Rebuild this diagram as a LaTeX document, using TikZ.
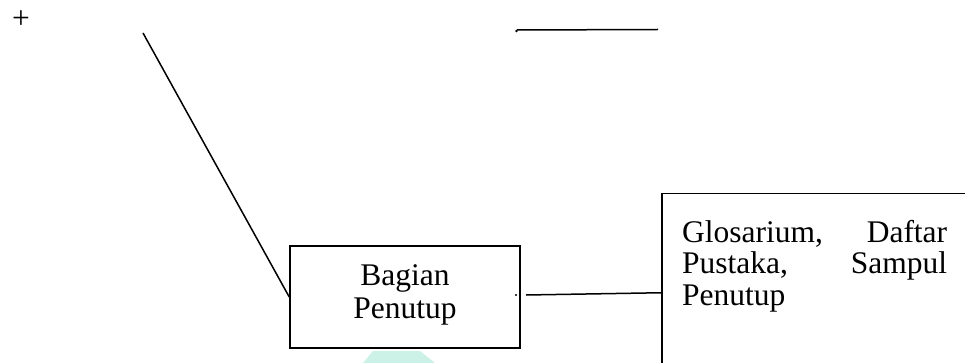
\documentclass[tikz,border=0pt]{standalone}
\usepackage{fontspec}
\setmainfont{Liberation Serif}
\definecolor{wm}{RGB}{204,242,232}
\begin{document}
\begin{tikzpicture}[x=1pt,y=-1pt,
  ln/.style={line width=1.5pt,black},
  boxst/.style={draw,line width=1.5pt,inner sep=0pt},
  txt/.style={font=\fontsize{31.5}{33}\selectfont,inner sep=0pt}]
\useasboundingbox (0,0) rectangle (965,363);
\clip (0,0) rectangle (965,363);
\fill[white] (0,0) rectangle (965,363);
% watermark fragment
\fill[wm] (373,351) -- (420,351) -- (435,363) -- (363,363) -- cycle;
% plus sign
\node[txt] (plus) at (21,19.5) {+};
% boxes
\node[boxst,minimum width=230pt,minimum height=102pt] (box1) at (405,297) {};
\node[txt,anchor=base] (b1a) at (405,285) {Bagian};
\node[txt,anchor=base] (b1b) at (405,318) {Penutup};
\node[boxst,minimum width=360pt,minimum height=198pt,anchor=north west] (box2) at (661,193) {};
\node[txt,anchor=base west] (g1) at (682,242) {\makebox[265pt][s]{Glosarium,\hfill Daftar}};
\node[txt,anchor=base west] (g2) at (682,273.5) {\makebox[265pt][s]{Pustaka,\hfill Sampul}};
\node[txt,anchor=base west] (g3) at (682,305) {Penutup};
% connectors
\coordinate (d1) at (143,33);
\draw[ln] (d1) -- (box1.west);
\coordinate (h1) at (658,29.5);
\coordinate (h2) at (517,30);
\draw[ln] (h1) -- (h2);
\fill (h2) ++(-0.5,1) circle (1.3pt);
\coordinate (r1) at (526,295);
\draw[ln] (r1) -- (box2.west);
\coordinate (dot) at (516,295);
\fill (dot) circle (1.1pt);
\end{tikzpicture}
\end{document}
